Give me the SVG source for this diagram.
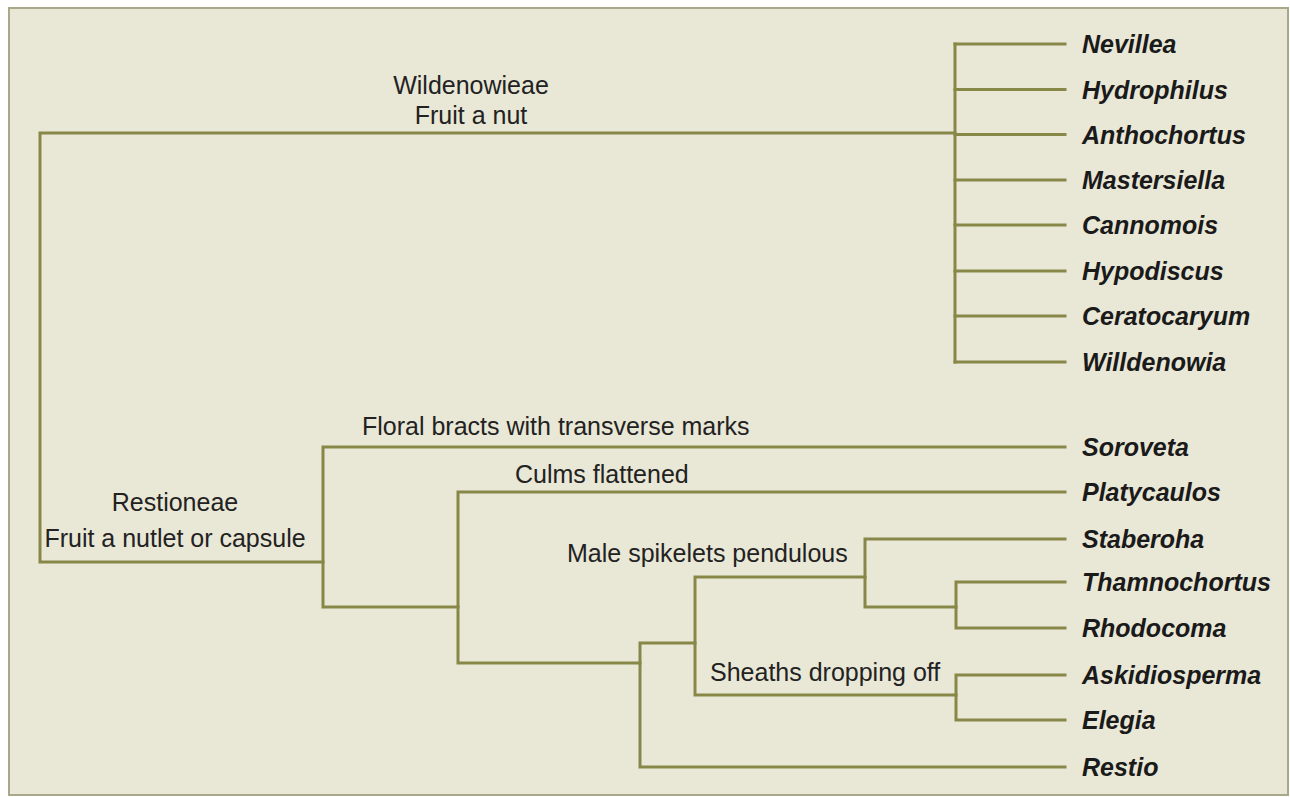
<svg xmlns="http://www.w3.org/2000/svg" width="1290" height="797" viewBox="0 0 1290 797">
<style>
.ln{stroke:#878748;stroke-width:3;fill:none;stroke-linecap:square}
.lab{font-family:"Liberation Sans",Arial,sans-serif;font-size:25px;fill:#222}
.leaf{font-family:"Liberation Sans",Arial,sans-serif;font-size:25px;font-weight:bold;font-style:italic;fill:#1a1a1a}
</style>
<rect x="0" y="0" width="1290" height="797" fill="#ffffff"/>
<rect x="9" y="8" width="1279" height="787" fill="#e9e7d6" stroke="#a9a98a" stroke-width="2"/>
<g id="connectors">
<path class="ln" d="M955,133 H40 V562 H323"/>
<path class="ln" d="M955,44 V362"/>
<path class="ln" d="M955,44 H1065 M955,89.5 H1065 M955,134.5 H1065 M955,180 H1065 M955,225 H1065 M955,271 H1065 M955,316 H1065 M955,362 H1065"/>
<path class="ln" d="M1065,447 H323 V607 H458"/>
<path class="ln" d="M1065,492 H458 V663 H640"/>
<path class="ln" d="M695,643 H640 V767 H1065"/>
<path class="ln" d="M865,577 H695 V695 H956"/>
<path class="ln" d="M1065,539 H865 V607 H956"/>
<path class="ln" d="M1065,582 H956 V628 H1065"/>
<path class="ln" d="M1065,675 H956 V720 H1065"/>
</g>
<g id="clade-wildenowieae"><text class="lab" x="471" y="94" text-anchor="middle">Wildenowieae</text><text class="lab" x="471" y="124" text-anchor="middle">Fruit a nut</text></g>
<g id="clade-restioneae"><text class="lab" x="175" y="511" text-anchor="middle">Restioneae</text><text class="lab" x="175" y="547" text-anchor="middle">Fruit a nutlet or capsule</text></g>
<g id="label-floral"><text class="lab" x="362" y="435">Floral bracts with transverse marks</text></g>
<g id="label-culms"><text class="lab" x="515" y="483">Culms flattened</text></g>
<g id="label-male"><text class="lab" x="567" y="562">Male spikelets pendulous</text></g>
<g id="label-sheaths"><text class="lab" x="710" y="681">Sheaths dropping off</text></g>
<g id="leaf-nevillea"><text class="leaf" x="1082" y="53">Nevillea</text></g>
<g id="leaf-hydrophilus"><text class="leaf" x="1082" y="98.5">Hydrophilus</text></g>
<g id="leaf-anthochortus"><text class="leaf" x="1082" y="143.5">Anthochortus</text></g>
<g id="leaf-mastersiella"><text class="leaf" x="1082" y="189">Mastersiella</text></g>
<g id="leaf-cannomois"><text class="leaf" x="1082" y="234">Cannomois</text></g>
<g id="leaf-hypodiscus"><text class="leaf" x="1082" y="280">Hypodiscus</text></g>
<g id="leaf-ceratocaryum"><text class="leaf" x="1082" y="325">Ceratocaryum</text></g>
<g id="leaf-willdenowia"><text class="leaf" x="1082" y="371">Willdenowia</text></g>
<g id="leaf-soroveta"><text class="leaf" x="1082" y="456">Soroveta</text></g>
<g id="leaf-platycaulos"><text class="leaf" x="1082" y="501">Platycaulos</text></g>
<g id="leaf-staberoha"><text class="leaf" x="1082" y="548">Staberoha</text></g>
<g id="leaf-thamnochortus"><text class="leaf" x="1082" y="591">Thamnochortus</text></g>
<g id="leaf-rhodocoma"><text class="leaf" x="1082" y="637">Rhodocoma</text></g>
<g id="leaf-askidiosperma"><text class="leaf" x="1082" y="684">Askidiosperma</text></g>
<g id="leaf-elegia"><text class="leaf" x="1082" y="729">Elegia</text></g>
<g id="leaf-restio"><text class="leaf" x="1082" y="776">Restio</text></g>
</svg>
